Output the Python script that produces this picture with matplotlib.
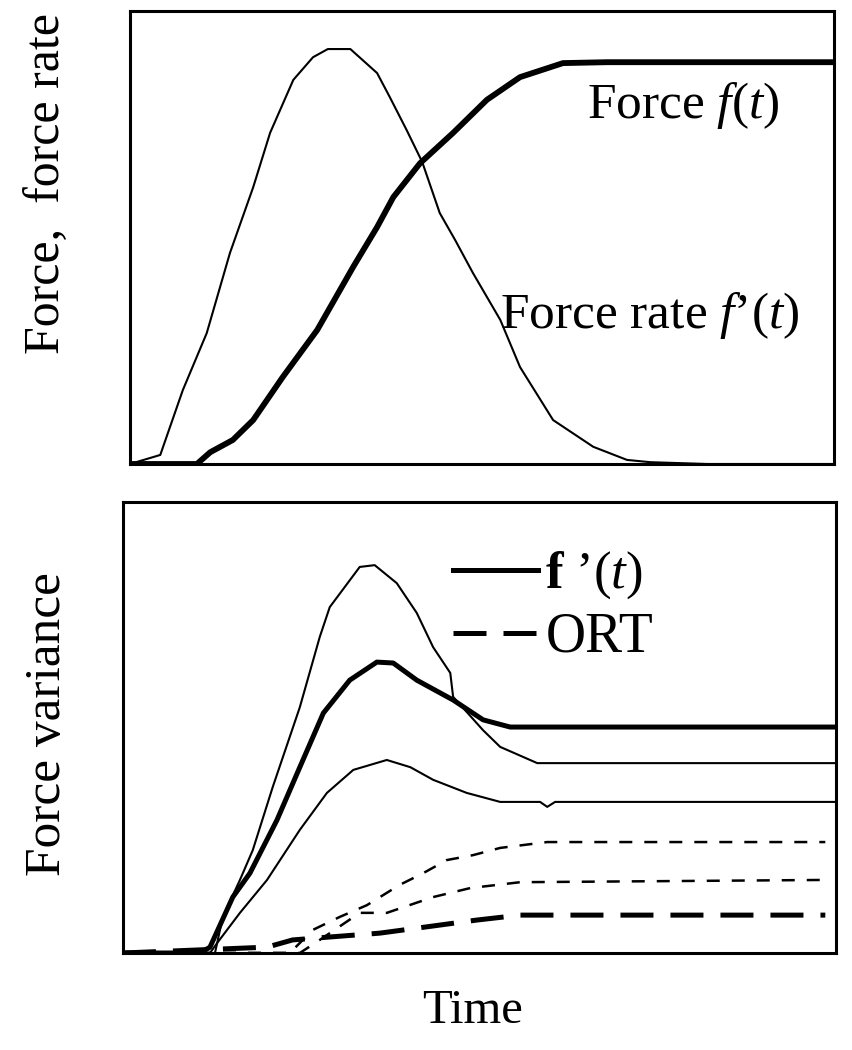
import matplotlib
matplotlib.use("Agg")
import matplotlib.pyplot as plt
from matplotlib.lines import Line2D

plt.rcParams['font.family'] = ['Liberation Serif', 'DejaVu Serif']
plt.rcParams['mathtext.fontset'] = 'custom'
plt.rcParams['mathtext.rm'] = 'Liberation Serif'
plt.rcParams['mathtext.it'] = 'Liberation Serif:italic'
plt.rcParams['mathtext.bf'] = 'Liberation Serif:bold'

# ---- top panel: force and force rate (time and value in % of axis) ----
rate_t = [0, 4.3, 7.5, 10.9, 14.2, 17.5, 19.9, 23.2, 26.0, 28.1, 31.3, 35.1, 36.9,
          39.3, 41.5, 44.0, 46.2, 48.7, 52.6, 55.4, 60.1, 65.8, 70.6, 73.9, 82.0, 100]
rate_v = [0, 2.0, 16.3, 28.9, 46.6, 61.1, 73.1, 84.8, 89.8, 91.6, 91.6, 86.3, 81.0,
          73.7, 66.7, 55.4, 49.4, 42.2, 31.8, 21.4, 9.7, 3.8, 0.9, 0.4, 0, 0]

force_t = [0, 9.5, 11.4, 14.6, 17.5, 21.7, 26.6, 31.7, 35.1, 37.4, 41.2, 45.9,
           50.7, 55.4, 61.5, 67.8, 100]
force_v = [0, 0, 2.6, 5.3, 9.7, 19.2, 29.6, 43.5, 52.3, 58.9, 66.4, 73.1,
           80.4, 85.4, 88.5, 88.7, 88.7]

# ---- bottom panel: force variance, f'(t) group (solid) and ORT group (dashed) ----
fp_hi_t = [0, 12.9, 14.0, 16.4, 18.2, 21.0, 24.8, 27.6, 29.0, 33.2, 35.3, 38.4, 41.2,
           43.5, 45.9, 46.3, 50.5, 52.9, 58.1, 100]
fp_hi_v = [0, 0, 8.0, 16.2, 22.8, 36.8, 54.5, 70.1, 76.7, 85.6, 86.0, 82.0, 75.4,
           67.8, 62.1, 56.8, 49.4, 45.7, 42.1, 42.1]

fp_mean_t = [0, 10.8, 12.2, 15.4, 17.8, 21.6, 24.8, 28.1, 31.8, 35.6, 37.9, 41.2,
             46.3, 50.5, 54.3, 100]
fp_mean_v = [0, 0, 1.3, 12.4, 17.7, 29.5, 41.2, 53.2, 60.5, 64.5, 64.3, 60.5,
             56.1, 51.7, 50.1, 50.1]

fp_lo_t = [0, 12.2, 13.2, 16.4, 20.2, 24.8, 28.6, 32.3, 37.0, 40.3, 43.5, 48.2,
           52.9, 58.5, 59.5, 60.6, 100]
fp_lo_v = [0, 0, 2.2, 8.9, 16.2, 27.3, 35.5, 40.6, 42.8, 41.2, 38.4, 35.5,
           33.5, 33.5, 32.4, 33.5, 33.5]

ort_hi_t = [0, 23.4, 26.6, 30.4, 34.2, 38.8, 42.1, 45.4, 49.1, 52.9, 59.5, 98.5]
ort_hi_v = [0, 0, 5.1, 8.0, 10.6, 15.1, 17.7, 20.6, 21.7, 23.3, 24.6, 24.6]

ort_lo_t = [0, 24.8, 27.6, 33.2, 37.0, 43.5, 48.7, 55.7, 98.5]
ort_lo_v = [0, 0, 2.9, 8.9, 8.9, 12.4, 14.4, 15.7, 16.2]

ort_mean_t = [0, 20.2, 23.8, 28.6, 36.0, 42.6, 49.6, 55.7, 98.5]
ort_mean_v = [0, 1.3, 2.9, 3.5, 4.4, 5.8, 7.3, 8.4, 8.4]

fig = plt.figure(figsize=(8.52, 10.5), dpi=100)

ax1 = fig.add_axes([130 / 852, 1 - 464 / 1050, 704 / 852, 453 / 1050])
ax2 = fig.add_axes([123 / 852, 1 - 953 / 1050, 713 / 852, 451 / 1050])

for ax in (ax1, ax2):
    ax.set_xlim(0, 100)
    ax.set_ylim(0, 100)
    ax.set_xticks([])
    ax.set_yticks([])
    for s in ax.spines.values():
        s.set_linewidth(2.2)
        s.set_color('black')

ax1.plot(rate_t, rate_v, color='black', lw=1.5)
ax1.plot(force_t, force_v, color='black', lw=4.2)
ax1.text(0.649, 0.764, r'Force $f$($t$)', transform=ax1.transAxes, fontsize=37,
         ha='left', va='baseline')
ax1.text(0.526, 0.300, "Force rate $f$\u2019($t$)", transform=ax1.transAxes, fontsize=37,
         ha='left', va='baseline')

ax2.plot(fp_hi_t, fp_hi_v, color='black', lw=1.5)
ax2.plot(fp_lo_t, fp_lo_v, color='black', lw=1.5)
ax2.plot(fp_mean_t, fp_mean_v, color='black', lw=3.6)
ax2.plot(ort_hi_t, ort_hi_v, color='black', lw=1.8, dashes=(5.2, 4.8))
ax2.plot(ort_lo_t, ort_lo_v, color='black', lw=1.8, dashes=(5.2, 4.8))
ax2.plot(ort_mean_t, ort_mean_v, color='black', lw=3.6, dashes=(6.6, 3.4))

handles = [Line2D([], [], color='black', lw=3.6),
           Line2D([], [], color='black', lw=3.6, dashes=(6.6, 3.4))]
leg = ax2.legend(handles, ["$\\mathbf{f}$ \u2019($t$)", 'ORT'], loc='upper left',
                 bbox_to_anchor=(0.463, 0.894), frameon=False, fontsize=38,
                 handlelength=1.6, handletextpad=0.15, labelspacing=0.2,
                 borderpad=0, borderaxespad=0)
leg.get_texts()[1].set_fontsize(40)

fig.text(60 / 852, 1 - 184 / 1050, 'Force,  force rate', rotation=90, fontsize=36,
         ha='center', va='baseline', rotation_mode='anchor')
fig.text(60 / 852, 1 - 724 / 1050, 'Force variance', rotation=90, fontsize=37,
         ha='center', va='baseline', rotation_mode='anchor')
fig.text(473 / 852, 1 - 1023 / 1050, 'Time', fontsize=35, ha='center', va='baseline')

fig.savefig('out.png', dpi=100)
